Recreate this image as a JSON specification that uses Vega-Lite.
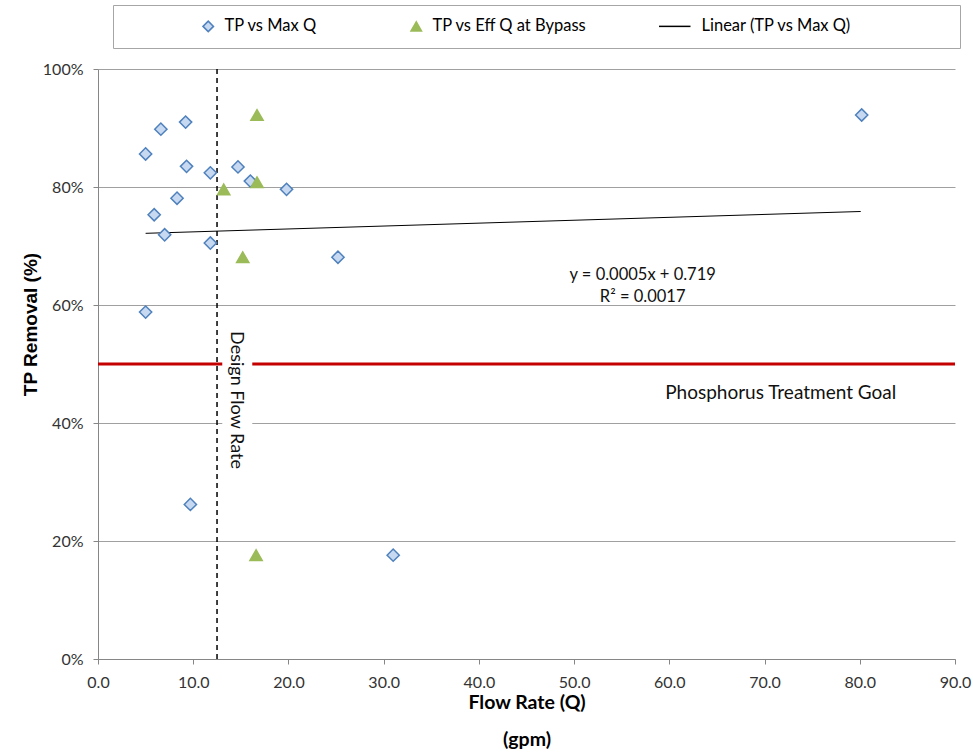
{
  "$schema": "https://vega.github.io/schema/vega-lite/v6.json",
  "width": 857,
  "height": 590,
  "autosize": {"type": "none"},
  "padding": {"left": 98, "top": 69, "right": 18, "bottom": 96},
  "background": "white",
  "config": {
    "font": "Lato",
    "view": {"stroke": null},
    "axis": {
      "labelFont": "Lato",
      "labelFontSize": 16,
      "labelColor": "#333333",
      "labelFlush": false,
      "labelOverlap": false,
      "domainColor": "#868686",
      "tickColor": "#868686",
      "tickSize": 5,
      "titleFont": "Lato",
      "titleFontWeight": "bold",
      "titleFontSize": 20,
      "titleColor": "#000000"
    }
  },
  "datasets": {
    "pts": [
      {"series": "TP vs Max Q", "q": 5.0, "tp": 0.856},
      {"series": "TP vs Max Q", "q": 6.6, "tp": 0.898},
      {"series": "TP vs Max Q", "q": 9.2, "tp": 0.910},
      {"series": "TP vs Max Q", "q": 9.3, "tp": 0.835},
      {"series": "TP vs Max Q", "q": 11.8, "tp": 0.824},
      {"series": "TP vs Max Q", "q": 8.3, "tp": 0.781},
      {"series": "TP vs Max Q", "q": 5.9, "tp": 0.753},
      {"series": "TP vs Max Q", "q": 7.0, "tp": 0.719},
      {"series": "TP vs Max Q", "q": 11.8, "tp": 0.705},
      {"series": "TP vs Max Q", "q": 14.7, "tp": 0.834},
      {"series": "TP vs Max Q", "q": 16.0, "tp": 0.810},
      {"series": "TP vs Max Q", "q": 19.8, "tp": 0.796},
      {"series": "TP vs Max Q", "q": 25.2, "tp": 0.681},
      {"series": "TP vs Max Q", "q": 5.0, "tp": 0.588},
      {"series": "TP vs Max Q", "q": 9.7, "tp": 0.262},
      {"series": "TP vs Max Q", "q": 31.0, "tp": 0.176},
      {"series": "TP vs Max Q", "q": 80.2, "tp": 0.922},
      {"series": "TP vs Eff Q at Bypass", "q": 16.7, "tp": 0.922},
      {"series": "TP vs Eff Q at Bypass", "q": 13.2, "tp": 0.796},
      {"series": "TP vs Eff Q at Bypass", "q": 16.7, "tp": 0.808},
      {"series": "TP vs Eff Q at Bypass", "q": 15.2, "tp": 0.681},
      {"series": "TP vs Eff Q at Bypass", "q": 16.6, "tp": 0.176}
    ],
    "trend": [
      {"q": 5.0, "tp": 0.7215},
      {"q": 80.1, "tp": 0.7585}
    ],
    "eq": [
      {"label": "y = 0.0005x + 0.719", "q": 57.2, "tp": 0.651},
      {"label": "R² = 0.0017", "q": 57.2, "tp": 0.614}
    ],
    "goal": [
      {"label": "Phosphorus Treatment Goal", "q": 71.7, "tp": 0.451}
    ],
    "design": [
      {"label": "Design Flow Rate", "q": 14.45, "tp": 0.439}
    ],
    "one": [{"k": 1}]
  },
  "layer": [
    {
      "data": {"name": "one"},
      "mark": {"type": "rule", "color": "#c40000", "strokeWidth": 3},
      "encoding": {
        "y": {"datum": 0.5, "type": "quantitative"}
      }
    },
    {
      "data": {"name": "one"},
      "mark": {"type": "rect", "color": "white"},
      "encoding": {
        "x": {"datum": 13.05, "type": "quantitative"},
        "x2": {"datum": 16.2},
        "y": {"datum": 0.313, "type": "quantitative"},
        "y2": {"datum": 0.564}
      }
    },
    {
      "data": {"name": "design"},
      "mark": {"type": "text", "angle": 90, "align": "center", "baseline": "middle", "fontSize": 18, "color": "#111111", "font": "Lato"},
      "encoding": {
        "x": {"field": "q", "type": "quantitative"},
        "y": {"field": "tp", "type": "quantitative"},
        "text": {"field": "label"}
      }
    },
    {
      "data": {"name": "one"},
      "mark": {"type": "rule", "color": "#000000", "strokeWidth": 1.5, "strokeDash": [5, 4]},
      "encoding": {
        "x": {"datum": 12.5, "type": "quantitative"}
      }
    },
    {
      "data": {"name": "trend"},
      "mark": {"type": "line", "color": "#000000", "strokeWidth": 1},
      "encoding": {
        "x": {"field": "q", "type": "quantitative"},
        "y": {"field": "tp", "type": "quantitative"}
      }
    },
    {
      "data": {"name": "pts"},
      "mark": {"type": "point", "filled": true, "size": 150, "strokeWidth": 1.5, "opacity": 1},
      "encoding": {
        "x": {
          "field": "q", "type": "quantitative",
          "scale": {"domain": [0, 90], "nice": false, "zero": true},
          "axis": {
            "values": [0, 10, 20, 30, 40, 50, 60, 70, 80, 90],
            "format": ".1f",
            "grid": false,
            "labelPadding": 10,
            "title": ["Flow Rate (Q)", "(gpm)"],
            "titleFontSize": 19.5,
            "titleLineHeight": 37,
            "titlePadding": 3
          }
        },
        "y": {
          "field": "tp", "type": "quantitative",
          "scale": {"domain": [0, 1], "nice": false},
          "axis": {
            "values": [0, 0.2, 0.4, 0.6, 0.8, 1.0],
            "format": ".0%",
            "grid": true,
            "gridColor": "#a0a0a0",
            "gridWidth": 1,
            "labelPadding": 10,
            "title": "TP Removal (%)",
            "titleFont": "Liberation Sans",
            "titleFontSize": 19,
            "titleAngle": 270,
            "titleX": -68,
            "titleY": 255,
            "titleAlign": "center",
            "titleBaseline": "middle"
          }
        },
        "shape": {
          "field": "series", "type": "nominal",
          "scale": {
            "domain": ["TP vs Max Q", "TP vs Eff Q at Bypass", "Linear (TP vs Max Q)"],
            "range": ["diamond", "triangle-up", "M-5,0H1"]
          },
          "legend": {
            "orient": "none",
            "direction": "horizontal",
            "legendX": 15,
            "legendY": -64,
            "title": "\u00a0",
            "titleOrient": "right",
            "titlePadding": 96,
            "titleFontSize": 8,
            "strokeColor": "#a6a6a6",
            "padding": 13,
            "symbolOffset": 74,
            "columnPadding": 16,
            "labelFont": "Lato",
            "labelFontSize": 16.5,
            "labelColor": "#000000",
            "labelOffset": 8,
            "symbolSize": 110,
            "symbolStrokeWidth": 1.5
          }
        },
        "fill": {
          "field": "series", "type": "nominal",
          "scale": {
            "domain": ["TP vs Max Q", "TP vs Eff Q at Bypass", "Linear (TP vs Max Q)"],
            "range": ["#c6d9f1", "#9bbb59", "transparent"]
          }
        },
        "stroke": {
          "field": "series", "type": "nominal",
          "scale": {
            "domain": ["TP vs Max Q", "TP vs Eff Q at Bypass", "Linear (TP vs Max Q)"],
            "range": ["#4f81bd", "#9bbb59", "#000000"]
          }
        }
      }
    },
    {
      "data": {"name": "eq"},
      "mark": {"type": "text", "align": "center", "baseline": "middle", "fontSize": 16.5, "color": "#111111", "font": "Lato"},
      "encoding": {
        "x": {"field": "q", "type": "quantitative"},
        "y": {"field": "tp", "type": "quantitative"},
        "text": {"field": "label"}
      }
    },
    {
      "data": {"name": "goal"},
      "mark": {"type": "text", "align": "center", "baseline": "middle", "fontSize": 19, "color": "#111111", "font": "Lato"},
      "encoding": {
        "x": {"field": "q", "type": "quantitative"},
        "y": {"field": "tp", "type": "quantitative"},
        "text": {"field": "label"}
      }
    }
  ]
}
